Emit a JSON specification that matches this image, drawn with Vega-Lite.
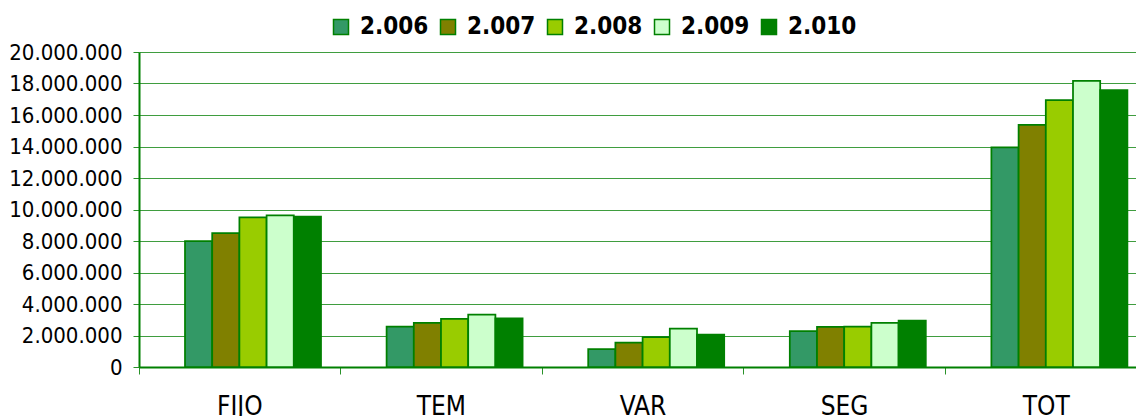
{
  "$schema": "https://vega.github.io/schema/vega-lite/v6.json",
  "autosize": {"type": "none"},
  "width": 997,
  "height": 315,
  "padding": {"left": 139, "top": 52, "right": 0, "bottom": 49},
  "background": "white",
  "config": {
    "view": {"stroke": null},
    "locale": {"number": {"decimal": ",", "thousands": ".", "grouping": [3], "currency": ["", " €"]}},
    "font": "DejaVu Sans Condensed"
  },
  "data": {
    "values": [
      {"cat": "FIJO", "year": "2.006", "value": 8000000},
      {"cat": "FIJO", "year": "2.007", "value": 8500000},
      {"cat": "FIJO", "year": "2.008", "value": 9500000},
      {"cat": "FIJO", "year": "2.009", "value": 9630000},
      {"cat": "FIJO", "year": "2.010", "value": 9550000},
      {"cat": "TEM", "year": "2.006", "value": 2570000},
      {"cat": "TEM", "year": "2.007", "value": 2800000},
      {"cat": "TEM", "year": "2.008", "value": 3050000},
      {"cat": "TEM", "year": "2.009", "value": 3320000},
      {"cat": "TEM", "year": "2.010", "value": 3080000},
      {"cat": "VAR", "year": "2.006", "value": 1140000},
      {"cat": "VAR", "year": "2.007", "value": 1540000},
      {"cat": "VAR", "year": "2.008", "value": 1890000},
      {"cat": "VAR", "year": "2.009", "value": 2430000},
      {"cat": "VAR", "year": "2.010", "value": 2060000},
      {"cat": "SEG", "year": "2.006", "value": 2270000},
      {"cat": "SEG", "year": "2.007", "value": 2550000},
      {"cat": "SEG", "year": "2.008", "value": 2560000},
      {"cat": "SEG", "year": "2.009", "value": 2800000},
      {"cat": "SEG", "year": "2.010", "value": 2940000},
      {"cat": "TOT", "year": "2.006", "value": 13950000},
      {"cat": "TOT", "year": "2.007", "value": 15370000},
      {"cat": "TOT", "year": "2.008", "value": 16950000},
      {"cat": "TOT", "year": "2.009", "value": 18170000},
      {"cat": "TOT", "year": "2.010", "value": 17580000}
    ]
  },
  "mark": {"type": "bar", "stroke": "#008000", "strokeWidth": 1.75, "clip": false},
  "encoding": {
    "x": {
      "field": "cat",
      "type": "nominal",
      "sort": ["FIJO", "TEM", "VAR", "SEG", "TOT"],
      "scale": {"range": [0, 1008], "paddingInner": 0, "paddingOuter": 0},
      "axis": {
        "title": null,
        "labelAngle": 0,
        "bandPosition": 0,
        "labelFontSize": 26,
        "labelColor": "#000000",
        "labelFont": "DejaVu Sans Condensed",
        "labelBaseline": "top",
        "labelPadding": 19,
        "tickSize": 7,
        "tickColor": "#2a922a",
        "tickWidth": 1,
        "domainColor": "#008000",
        "domainWidth": 2,
        "grid": false
      }
    },
    "xOffset": {
      "field": "year",
      "type": "nominal",
      "scale": {"range": [46, 182], "paddingInner": 0, "paddingOuter": 0}
    },
    "y": {
      "field": "value",
      "type": "quantitative",
      "scale": {"domain": [0, 20000000], "nice": false},
      "axis": {
        "title": null,
        "values": [0, 2000000, 4000000, 6000000, 8000000, 10000000, 12000000, 14000000, 16000000, 18000000, 20000000],
        "format": ",d",
        "labelFontSize": 22,
        "labelColor": "#000000",
        "labelFont": "DejaVu Sans Condensed",
        "labelPadding": 11,
        "tickSize": 6,
        "tickColor": "#2a922a",
        "domainColor": "#008000",
        "domainWidth": 2,
        "gridColor": "#2a922a",
        "gridWidth": 1,
        "gridOpacity": 0.9
      }
    },
    "fill": {
      "field": "year",
      "type": "nominal",
      "scale": {
        "domain": ["2.006", "2.007", "2.008", "2.009", "2.010"],
        "range": ["#339966", "#808000", "#99CC00", "#CCFFCC", "#008000"]
      },
      "legend": {
        "title": null,
        "orient": "none",
        "direction": "horizontal",
        "columns": 5,
        "legendX": 190,
        "legendY": -37,
        "padding": 0,
        "symbolType": "square",
        "symbolSize": 225,
        "symbolStrokeColor": "#008000",
        "symbolStrokeWidth": 1.5,
        "symbolOpacity": 1,
        "labelFont": "DejaVu Sans Condensed",
        "labelFontSize": 24,
        "labelFontWeight": "bold",
        "labelColor": "#000000",
        "labelOffset": 7,
        "columnPadding": 7
      }
    }
  }
}
